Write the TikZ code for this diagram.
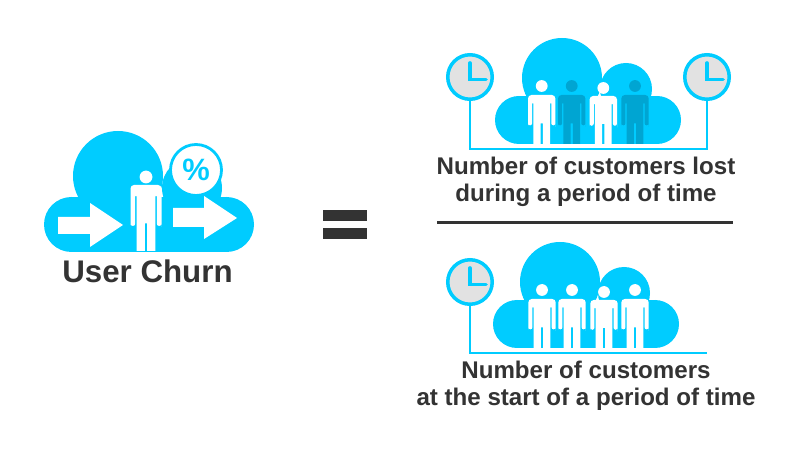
\documentclass[tikz,border=0pt]{standalone}
\usepackage{fontspec}
\setmainfont{Liberation Sans}
\definecolor{cyanc}{HTML}{00CCFF}
\definecolor{darkc}{HTML}{00A5D2}
\definecolor{inkc}{HTML}{333333}
\definecolor{clockc}{HTML}{E2E2E2}
\tikzset{
  titletext/.style={font=\bfseries\fontsize{31.4}{32}\selectfont,text=inkc,inner sep=0pt},
  labelb/.style={font=\bfseries\fontsize{24.2}{27}\selectfont,text=inkc,inner sep=0pt,align=center},
  stem/.style={draw=cyanc,line width=1.8bp},
  clockface/.style={circle,fill=clockc,draw=cyanc,line width=3.5bp,minimum size=44.5bp,inner sep=0pt},
  clockhand/.style={draw=cyanc,line width=3.6bp,line cap=round,line join=miter}
}
% #1 x centre, #2 shoulder y, #3 half width, #4 leg bottom y, #5 colour, #6 head r, #7 head dy
\newcommand{\personfig}[7]{%
  \begin{scope}[shift={(#1,#2)},x=#3bp/15.5]
    \fill[#5] (0,-#7) circle[radius=#6bp];
    \pgfmathsetmacro{\legy}{#4-#2}
    \fill[#5,rounded corners=3.5bp] (-15.5,{0.58*\legy}) -- (-15.5,0) -- (15.5,0) -- (15.5,{0.58*\legy})
       [rounded corners=2.2bp] -- (15.5,{0.62*\legy}) -- (10.8,{0.62*\legy})
       [sharp corners] -- (10.8,{0.17*\legy}) -- (9.4,{0.17*\legy}) -- (9.4,\legy) -- (1.2,\legy) -- (1.2,{0.58*\legy})
       -- (-1.2,{0.58*\legy}) -- (-1.2,\legy) -- (-9.4,\legy) -- (-9.4,{0.17*\legy}) -- (-10.8,{0.17*\legy})
       [rounded corners=2.2bp] -- (-10.8,{0.62*\legy}) -- (-15.5,{0.62*\legy}) -- cycle;
  \end{scope}}
\begin{document}
\begin{tikzpicture}[x=1bp,y=-1bp]
\useasboundingbox (0,0) rectangle (800,450);
\fill[white] (0,0) rectangle (800,450);
% left cloud
\fill[cyanc] (118,176) circle[radius=45];
\fill[cyanc] (192,188) circle[radius=30];
\fill[cyanc] (71.5,224.5) circle[radius=27.5];
\fill[cyanc] (226.5,224.5) circle[radius=27.5];
\fill[cyanc] (71.5,197) rectangle (226.5,252);
\node[circle,fill=white,draw=cyanc,line width=2.8bp,minimum size=51bp,inner sep=0pt,text=cyanc,font=\bfseries\fontsize{31}{31}\selectfont] (pct) at (196,170) {\%};
\fill[white] (58,217) -- (90,217) -- (90,203) -- (123,225) -- (90,247) -- (90,234) -- (58,234) -- cycle;
\fill[white] (173,208) -- (204,208) -- (204,196) -- (237,218) -- (204,239) -- (204,227) -- (173,227) -- cycle;
\personfig{146}{185}{15.5}{251}{white}{6.4}{8}
\node[titletext] (churn) at (147.5,271.5) {User Churn};
% equals
\fill[inkc] (323,210) rectangle (367,221);
\fill[inkc] (323,228) rectangle (367,239);
% top cloud
\fill[cyanc] (562,78) circle[radius=40];
\fill[cyanc] (626,89) circle[radius=26];
\fill[cyanc] (519,120) circle[radius=24];
\fill[cyanc] (657,120) circle[radius=24];
\fill[cyanc] (519,96) rectangle (657,144);
\personfig{541.7}{95}{13.7}{144}{white}{5.9}{9}
\personfig{571.7}{95}{13.7}{144}{darkc}{5.9}{9}
\personfig{603.3}{96}{13.7}{144}{white}{5.9}{8}
\personfig{635}{95}{13.7}{144}{darkc}{5.9}{9}
\node[clockface] (clockA) at (470,77) {};
\node[clockface] (clockB) at (707,77) {};
\coordinate (cornerA) at (470,149);
\coordinate (cornerB) at (707,149);
\draw[stem] (clockA.south) -- (cornerA) -- (cornerB) -- (clockB.south);
\draw[clockhand] (470,63) -- (470,79.5) -- (486,79.5);
\draw[clockhand] (707,63) -- (707,79.5) -- (723,79.5);
\node[labelb] (topText) at (586,182) {Number of customers lost\\during a period of time};
\draw[inkc,line width=3bp] (437,223) -- (733,223);
% bottom cloud
\fill[cyanc] (560,282) circle[radius=40];
\fill[cyanc] (624,293) circle[radius=26];
\fill[cyanc] (517,324) circle[radius=24];
\fill[cyanc] (655,324) circle[radius=24];
\fill[cyanc] (517,300) rectangle (655,348);
\personfig{542}{299}{13.7}{348}{white}{5.9}{9}
\personfig{572}{299}{13.7}{348}{white}{5.9}{9}
\personfig{604}{300}{13.7}{348}{white}{5.9}{8}
\personfig{635}{299}{13.7}{348}{white}{5.9}{9}
\node[clockface] (clockC) at (470,282) {};
\coordinate (cornerC) at (470,353);
\coordinate (endC) at (707,353);
\draw[stem] (clockC.south) -- (cornerC) -- (endC);
\draw[clockhand] (470,268) -- (470,284.5) -- (486,284.5);
\node[labelb] (botText) at (586,386) {Number of customers\\at the start of a period of time};
\end{tikzpicture}
\end{document}
